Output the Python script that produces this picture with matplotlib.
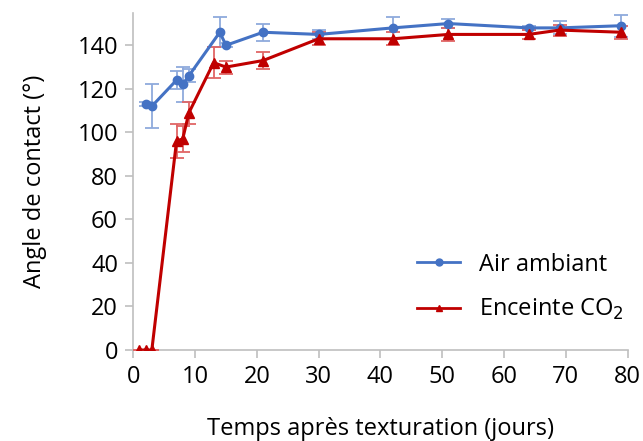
import matplotlib
matplotlib.use("Agg")
import matplotlib.pyplot as plt
from matplotlib.lines import Line2D

plt.rcParams['font.family'] = ['Open Sans', 'DejaVu Sans']

air_days = [2, 3, 7, 8, 9, 14, 15, 21, 30, 42, 51, 64, 69, 79]
air_angle = [113, 112, 124, 122, 126, 146, 140, 146, 145, 148, 150, 148, 148, 149]
air_err = [1, 10, 4, 8, 3, 7, 1, 4, 2, 5, 2, 1, 3, 5]

co2_days = [1, 2, 3, 7, 8, 9, 13, 15, 21, 30, 42, 51, 64, 69, 79]
co2_angle = [0, 0, 0, 96, 97, 109, 132, 130, 133, 143, 143, 145, 145, 147, 146]
co2_err = [0, 0, 0, 8, 6, 5, 7, 3, 4, 3, 3, 3, 2, 2.5, 3]

blue = '#4472C4'
red = '#C00000'
fs = 17

fig = plt.figure(figsize=(6.43, 4.41), dpi=100)
ax = fig.add_axes([0.2073, 0.2063, 0.7687, 0.765])

ax.errorbar(air_days, air_angle, yerr=air_err, color=blue, marker='o', markersize=6,
            linewidth=2.2, ecolor='#8FAADC', elinewidth=1.3, capsize=5, capthick=1.3,
            zorder=3)
ax.errorbar(co2_days, co2_angle, yerr=co2_err, color=red, marker='^', markersize=6.5,
            linewidth=2.2, ecolor='#E06666', elinewidth=1.3, capsize=5, capthick=1.3,
            zorder=3)

ax.set_xlim(0, 80)
ax.set_ylim(0, 155)
ax.set_xticks(range(0, 81, 10))
ax.set_yticks(range(0, 141, 20))
for s in ['top', 'right']:
    ax.spines[s].set_visible(False)
for s in ['left', 'bottom']:
    ax.spines[s].set_color('#BFBFBF')
    ax.spines[s].set_linewidth(1.2)
ax.tick_params(axis='both', colors='#BFBFBF', labelcolor='black', labelsize=fs,
               length=6, width=1.2)
ax.tick_params(axis='y', pad=5)
ax.tick_params(axis='x', pad=5)

ax.set_xlabel('Temps après texturation (jours)', fontsize=fs, labelpad=20)
ax.set_ylabel('Angle de contact (°)', fontsize=fs, labelpad=22)

handles = [Line2D([], [], color=blue, marker='o', markersize=5, linewidth=2),
           Line2D([], [], color=red, marker='^', markersize=5, linewidth=2)]
ax.legend(handles, ['Air ambiant', 'Enceinte CO$_2$'], loc='lower right',
          bbox_to_anchor=(1.035, 0.02), frameon=False, fontsize=fs,
          handlelength=1.8, labelspacing=0.85, handletextpad=0.8)

fig.savefig('out.png', dpi=100)
